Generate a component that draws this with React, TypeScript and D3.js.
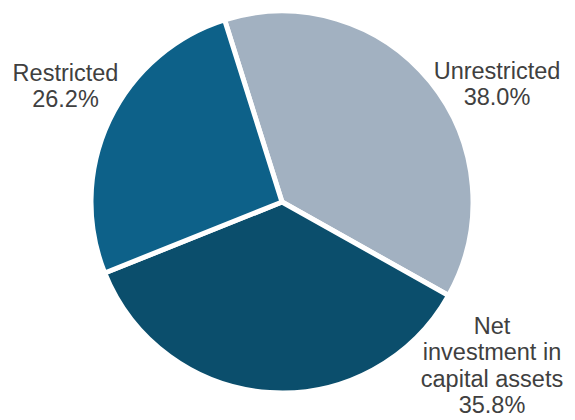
import React from "react";
import * as d3 from "d3";

const categories = ["Unrestricted", "Net investment in capital assets", "Restricted"];
const values = [38.0, 35.8, 26.2];
const labelLines = [
  ["Unrestricted", "38.0%"],
  ["Net", "investment in", "capital assets", "35.8%"],
  ["Restricted", "26.2%"],
];
const colors = ["#A2B1C1", "#0B4E6C", "#0D6189"];

const W = 575;
const H = 420;
const cx = 282;
const cy = 202;
const R = 191;
const startDeg = -17.5;

const labelPos = [
  { x: 497, y: 79 },
  { x: 492, y: 334 },
  { x: 65.5, y: 81 },
];
const lineH = 26.3;

export default function App() {
  const data = categories.map((c, i) => ({ name: c, value: values[i], color: colors[i], idx: i }));
  const start = (startDeg * Math.PI) / 180;
  const pie = d3
    .pie<any>()
    .sort(null)
    .value((d: any) => d.value)
    .startAngle(start)
    .endAngle(start + 2 * Math.PI);
  const arc = d3.arc<any>().innerRadius(0).outerRadius(R);
  const arcs = pie(data);
  return (
    <svg
      width={W}
      height={H}
      style={{ position: "absolute", left: 0, top: 0, background: "#fff" }}
      fontFamily="'Liberation Sans', Arial, sans-serif"
    >
      <g transform={`translate(${cx},${cy})`}>
        {arcs.map((a: any, i: number) => (
          <path
            key={i}
            d={arc(a) as string}
            fill={a.data.color}
            stroke="#ffffff"
            strokeWidth={5}
            strokeLinejoin="round"
          />
        ))}
      </g>
      {labelLines.map((lines, i) => (
        <text
          key={i}
          x={labelPos[i].x}
          y={labelPos[i].y}
          textAnchor="middle"
          fontSize={23.5}
          fill="#404040"
        >
          {lines.map((l, j) => (
            <tspan key={j} x={labelPos[i].x} y={labelPos[i].y + j * lineH}>
              {l}
            </tspan>
          ))}
        </text>
      ))}
    </svg>
  );
}
